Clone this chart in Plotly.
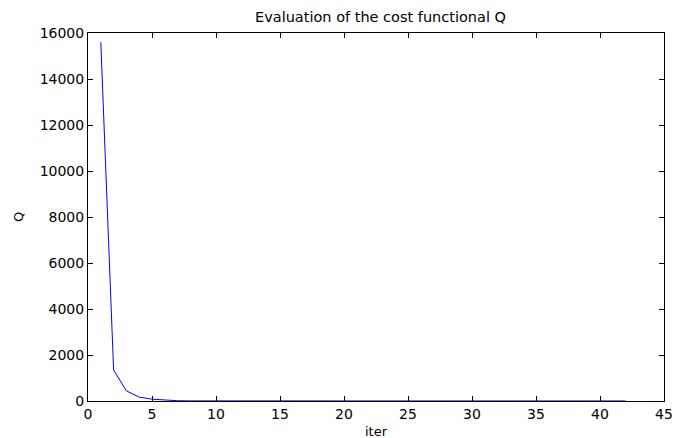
import plotly.graph_objects as go

# Iteration history of the cost functional Q
iterations = list(range(1, 43))
q_head = [15600, 1350, 440, 170, 80, 30, 12, 6, 4, 3]
q_tail = [2] * (len(iterations) - len(q_head))
q_values = q_head + q_tail

x_ticks = [0, 5, 10, 15, 20, 25, 30, 35, 40, 45]
y_ticks = [0, 2000, 4000, 6000, 8000, 10000, 12000, 14000, 16000]
y_tick_text = [str(v) for v in y_ticks]

font_family = "DejaVu Sans, sans-serif"
W, H = 682, 438
L, R, T, B = 88, 9, 33, 37

fig = go.Figure()
fig.add_trace(go.Scatter(
    x=iterations, y=q_values, mode="lines",
    line=dict(color="#0000ff", width=1),
    showlegend=False,
))

axis_common = dict(
    showgrid=False, zeroline=False, showline=True, linecolor="black",
    linewidth=1, mirror="ticks", ticks="inside", ticklen=5,
    tickcolor="black", tickfont=dict(size=14, color="black", family=font_family),
)

fig.update_layout(
    width=W, height=H,
    margin=dict(l=L, r=R, t=T, b=B),
    paper_bgcolor="white", plot_bgcolor="white",
    title=dict(text="Evaluation of the cost functional Q",
               x=(L + W - R) / 2 / W, xanchor="center",
               y=1 - 16.5 / H, yanchor="middle",
               font=dict(size=14.5, color="black", family=font_family)),
    xaxis=dict(range=[0, 45], tickvals=x_ticks, **axis_common),
    yaxis=dict(range=[0, 16000], tickvals=y_ticks, ticktext=y_tick_text,
               **axis_common),
    annotations=[
        dict(text="iter", xref="paper", yref="paper",
             x=0.5, y=0, xanchor="center", yanchor="middle",
             yshift=-(431 - (H - B)), showarrow=False,
             font=dict(size=13, color="black", family=font_family)),
        dict(text="Q", xref="paper", yref="paper",
             x=0, y=0.5, xanchor="center", yanchor="middle",
             xshift=-(L - 18), yshift=(T + (H - T - B) / 2) - 217,
             textangle=-90, showarrow=False,
             font=dict(size=13, color="black", family=font_family)),
    ],
)

fig.write_html("out.html")
